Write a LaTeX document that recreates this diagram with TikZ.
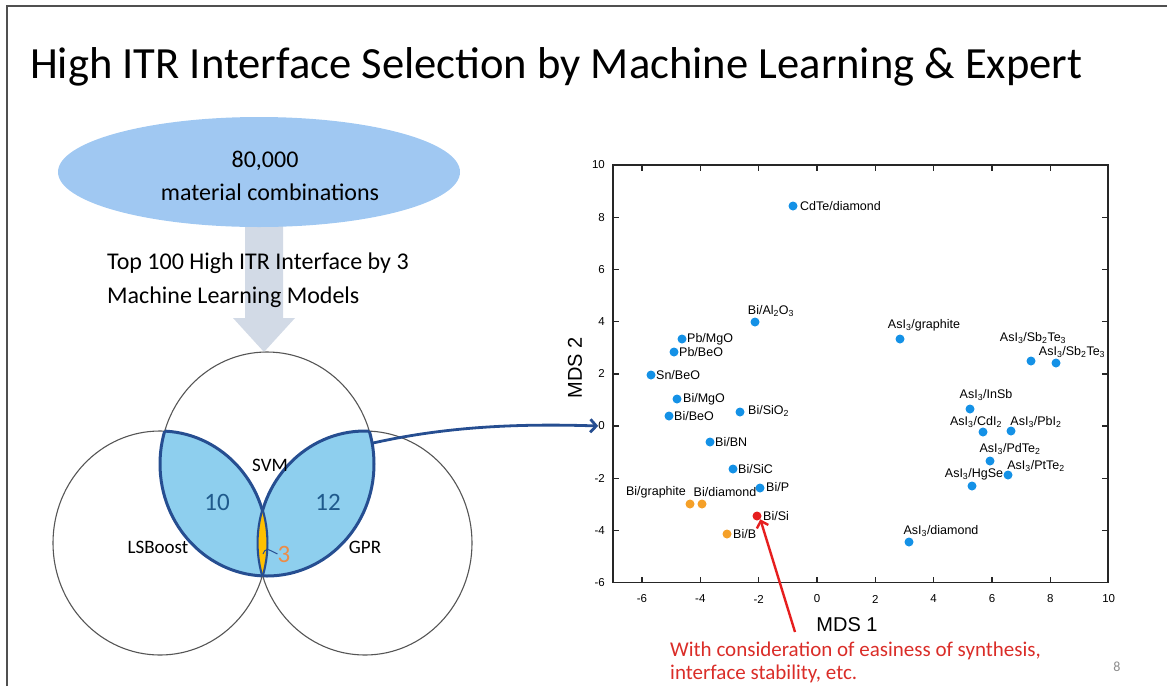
\documentclass[tikz,border=0pt]{standalone}
\usepackage{fontspec}
\setmainfont{Carlito}
\newfontfamily\plotfont{Liberation Sans}
\usetikzlibrary{arrows.meta,shapes.geometric}
\definecolor{ellblue}{RGB}{160,200,242}
\definecolor{arrowgray}{RGB}{210,218,230}
\definecolor{vennblue}{RGB}{142,207,238}
\definecolor{vennline}{RGB}{38,78,145}
\definecolor{lensyellow}{RGB}{255,192,0}
\definecolor{numblue}{RGB}{31,90,140}
\definecolor{numorange}{RGB}{237,140,70}
\definecolor{dotblue}{RGB}{20,145,230}
\definecolor{dotorange}{RGB}{245,160,40}
\definecolor{dotred}{RGB}{230,30,30}
\definecolor{redtext}{RGB}{218,45,40}
\definecolor{circgray}{RGB}{85,85,85}
\definecolor{framegray}{RGB}{80,80,80}
\newcommand\myfs[2]{\fontsize{#1}{#2}\selectfont}
\def\Spath{(267,464) ellipse [x radius=107pt, y radius=112pt]}
\def\Lpath{(160,543) ellipse [x radius=107pt, y radius=112pt]}
\def\Gpath{(365,543) ellipse [x radius=107pt, y radius=112pt]}
\begin{document}
\begin{tikzpicture}[x=1pt,y=-1pt,
  txt/.style={inner sep=0pt,anchor=base west},
  dot/.style={circle,inner sep=0pt,minimum size=9pt,fill=dotblue},
  odot/.style={dot,fill=dotorange},
  rdot/.style={dot,fill=dotred},
  lbl/.style={font=\plotfont\myfs{12.5}{14},inner sep=0pt},
  tickl/.style={font=\plotfont\myfs{11.5}{13},inner sep=0pt},
  axisline/.style={draw=black!85,line width=1.4pt},
  thincirc/.style={draw=circgray,line width=1.1pt},
  vline/.style={draw=vennline,line width=3pt},
  lensline/.style={draw=vennline,line width=1.2pt}]
\useasboundingbox (0,0) rectangle (1167,686);
% slide frame
\draw[framegray,line width=1.5pt] (7,686) -- (7,6) -- (1167,6);
% title
\node[txt,font=\myfs{44.6}{50}] (title) at (30,78) {High ITR Interface Selection by Machine Learning \& Expert};
% big arrow
\fill[arrowgray] (245,220) -- (283,220) -- (283,318) -- (295,318) -- (264,352) -- (233,318) -- (245,318) -- cycle;
% ellipse
\node[ellipse,fill=ellblue,minimum width=402pt,minimum height=110pt,inner sep=0pt] (ell) at (259,172) {};
\node[inner sep=0pt,anchor=base,font=\myfs{24}{28}] (ellA) at (265,167) {80,000};
\node[inner sep=0pt,anchor=base,font=\myfs{24}{28}] (ellB) at (270,200) {material combinations};
\node[txt,font=\myfs{24}{28}] (top1) at (107,269) {Top 100 High ITR Interface by 3};
\node[txt,font=\myfs{24}{28}] (top2) at (107,303) {Machine Learning Models};
% Venn
\draw[thincirc] \Spath;
\draw[thincirc] \Lpath;
\draw[thincirc] \Gpath;
\begin{scope}
  \clip \Spath;
  \fill[vennblue] \Lpath;
  \fill[vennblue] \Gpath;
\end{scope}
\begin{scope}
  \clip \Spath; \draw[vline] \Lpath; \draw[vline] \Gpath;
\end{scope}
\begin{scope}
  \clip \Lpath; \draw[vline] \Spath;
\end{scope}
\begin{scope}
  \clip \Gpath; \draw[vline] \Spath;
\end{scope}
\begin{scope}
  \clip \Spath; \clip \Lpath; \fill[lensyellow] \Gpath;
\end{scope}
\begin{scope}
  \clip \Spath; \clip \Lpath; \draw[lensline] \Gpath;
\end{scope}
\begin{scope}
  \clip \Spath; \clip \Gpath; \draw[lensline] \Lpath;
\end{scope}
\node[font=\myfs{19}{22},inner sep=0pt] (svm) at (270,465) {SVM};
\node[font=\myfs{19}{22},inner sep=0pt] (lsb) at (158,547) {LSBoost};
\node[font=\myfs{19}{22},inner sep=0pt] (gpr) at (365,547) {GPR};
\node[font=\myfs{25}{28},text=numblue,inner sep=0pt] (n10) at (217,502) {10};
\node[font=\myfs{25}{28},text=numblue,inner sep=0pt] (n12) at (328,502) {12};
\node[font=\myfs{25}{28},text=numorange,inner sep=0pt] (n3) at (284,554) {3};
\coordinate (lensc) at (263,554);
\draw[vennline,line width=1pt] (lensc) .. controls (266,548) .. (n3.west);
% plot axes
\draw[axisline] (613,165) rectangle (1108,582.6);
\foreach \v in {-6,-4,...,8} {
  \draw[axisline] ({817+29.17*\v},582.6) -- ++(0,-6);
  \draw[axisline] ({817+29.17*\v},165) -- ++(0,6);
}
\foreach \v in {-4,-2,...,8} {
  \draw[axisline] (613,{426-26.1*\v}) -- ++(6,0);
  \draw[axisline] (1108,{426-26.1*\v}) -- ++(-6,0);
}
\foreach \v in {-6,-4,...,10} {
  \node[tickl] (xt\v) at ({817+29.17*\v},599) {\v};
  \node[tickl,anchor=east] (yt\v) at (605,{426-26.1*\v}) {\v};
}
\node[font=\plotfont\myfs{20}{24},inner sep=0pt] (xlab) at (847,625) {MDS 1};
\node[font=\plotfont\myfs{20}{24},inner sep=0pt,rotate=90] (ylab) at (575,368) {MDS 2};
% data points
\node[dot] (cdte) at (793,206) {};
\node[dot] (bial) at (755,322) {};
\node[dot] (pbmgo) at (682,339) {};
\node[dot] (pbbeo) at (674,352) {};
\node[dot] (snbeo) at (651,375) {};
\node[dot] (bimgo) at (677,399) {};
\node[dot] (bibeo) at (669,416) {};
\node[dot] (bisio) at (740,412) {};
\node[dot] (bibn) at (710,442) {};
\node[dot] (bisic) at (733,469) {};
\node[dot] (bip) at (760,488) {};
\node[rdot] (bisi) at (757,516) {};
\node[odot] (bigr) at (690,504) {};
\node[odot] (bidia) at (702,504) {};
\node[odot] (bib) at (727,534) {};
\node[dot] (asgr) at (900,339) {};
\node[dot] (assba) at (1031,361) {};
\node[dot] (assbb) at (1056,363) {};
\node[dot] (asinsb) at (970,409) {};
\node[dot] (ascd) at (983,432) {};
\node[dot] (aspb) at (1011,431) {};
\node[dot] (aspd) at (990,461) {};
\node[dot] (aspt) at (1008,475) {};
\node[dot] (ashg) at (972,486) {};
\node[dot] (asdia) at (909,542) {};
% labels
\node[lbl,anchor=west] (cdteL) at (800,206) {CdTe/diamond};
\node[lbl] (bialL) at (771,311) {Bi/Al\textsubscript{2}O\textsubscript{3}};
\node[lbl,anchor=west] (pbmgoL) at (687,339) {Pb/MgO};
\node[lbl,anchor=west] (pbbeoL) at (679,352) {Pb/BeO};
\node[lbl,anchor=west] (snbeoL) at (656,375) {Sn/BeO};
\node[lbl,anchor=west] (bimgoL) at (683,399) {Bi/MgO};
\node[lbl,anchor=west] (bibeoL) at (674,416) {Bi/BeO};
\node[lbl,anchor=west] (bisioL) at (748,411) {Bi/SiO\textsubscript{2}};
\node[lbl,anchor=west] (bibnL) at (715,442) {Bi/BN};
\node[lbl,anchor=west] (bisicL) at (738,469) {Bi/SiC};
\node[lbl,anchor=west] (bipL) at (766,487) {Bi/P};
\node[lbl,anchor=west] (bisiL) at (763,516) {Bi/Si};
\node[lbl] (bigrL) at (656,492) {Bi/graphite};
\node[lbl] (bidiaL) at (725,492) {Bi/diamond};
\node[lbl,anchor=west] (bibL) at (733,534) {Bi/B};
\node[lbl] (asgrL) at (924,325) {AsI\textsubscript{3}/graphite};
\node[lbl] (assbaL) at (1033,338) {AsI\textsubscript{3}/Sb\textsubscript{2}Te\textsubscript{3}};
\node[lbl] (assbbL) at (1072,352) {AsI\textsubscript{3}/Sb\textsubscript{2}Te\textsubscript{3}};
\node[lbl] (asinsbL) at (986,395) {AsI\textsubscript{3}/InSb};
\node[lbl] (ascdL) at (976,422) {AsI\textsubscript{3}/CdI\textsubscript{2}};
\node[lbl] (aspbL) at (1036,422) {AsI\textsubscript{3}/PbI\textsubscript{2}};
\node[lbl] (aspdL) at (1010,449) {AsI\textsubscript{3}/PdTe\textsubscript{2}};
\node[lbl] (asptL) at (1036,466) {AsI\textsubscript{3}/PtTe\textsubscript{2}};
\node[lbl] (ashgL) at (974,474) {AsI\textsubscript{3}/HgSe};
\node[lbl] (asdiaL) at (941,531) {AsI\textsubscript{3}/diamond};
% blue connector from Venn to plot
\coordinate (lobeR) at (373,443);
\draw[vennline,line width=2.8pt,-{Straight Barb[length=6pt,width=13pt]}]
  (lobeR) .. controls (440,428) and (510,423) .. (yt0.west);
% red note and arrow
\node[txt,font=\myfs{21}{26},text=redtext] (red1) at (670,656) {With consideration of easiness of synthesis,};
\node[txt,font=\myfs{21}{26},text=redtext] (red2) at (670,679) {interface stability, etc.};
\coordinate (rstart) at (795,632);
\draw[dotred,line width=2.4pt,-{Straight Barb[length=6pt,width=12pt]}] (rstart) -- (bisi.south east);
% page number
\node[font=\myfs{14}{16},text=black!45,inner sep=0pt] (pnum) at (1117,667) {8};
\end{tikzpicture}
\end{document}
